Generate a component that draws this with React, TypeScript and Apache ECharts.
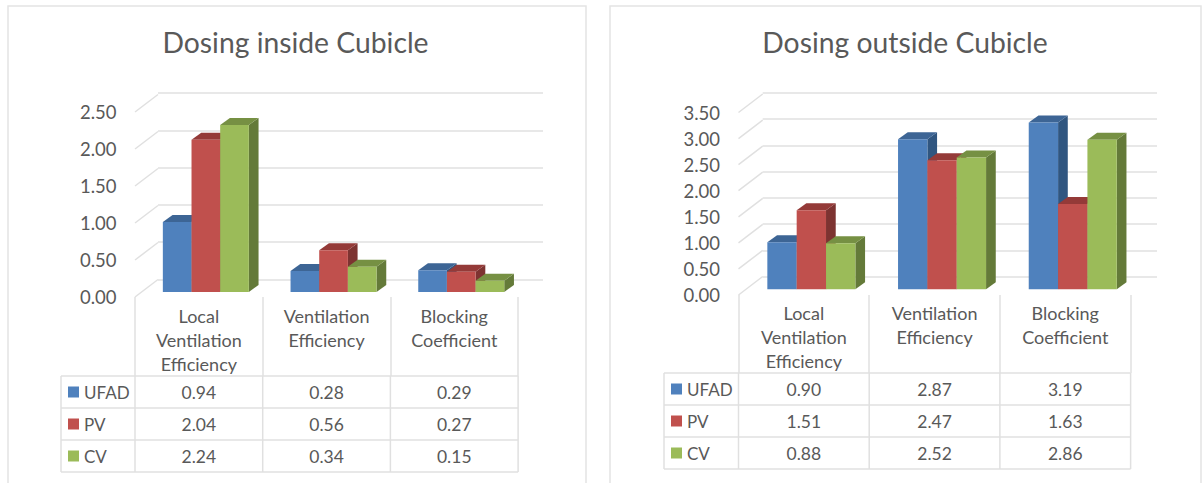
import React, { useEffect, useRef } from "react";
import * as echarts from "echarts";

const categories = ["Local\nVentilation\nEfficiency", "Ventilation\nEfficiency", "Blocking\nCoefficient"];
const seriesNames = ["UFAD", "PV", "CV"];
const insideTitle = "Dosing inside Cubicle";
const outsideTitle = "Dosing outside Cubicle";
const insideUfad = [0.94, 0.28, 0.29];
const insidePv = [2.04, 0.56, 0.27];
const insideCv = [2.24, 0.34, 0.15];
const outsideUfad = [0.9, 2.87, 3.19];
const outsidePv = [1.51, 2.47, 1.63];
const outsideCv = [0.88, 2.52, 2.86];
const insideTicks = [0, 0.5, 1, 1.5, 2, 2.5];
const outsideTicks = [0, 0.5, 1, 1.5, 2, 2.5, 3, 3.5];

const FONT = "Lato";
const TEXT = "#595959";
const LINE = "#e0e0e0";
const FACE = ["#4f81bd", "#c0504d", "#9bbb59"];
const TOP = ["#3d6595", "#943a38", "#769043"];
const SIDE = ["#305680", "#7d3331", "#647a39"];

type Layout = {
  title: string; titleX: number;
  panel: [number, number];
  values: number[][]; ticks: number[];
  front: { x: number; y0: number; yMax: number };
  back: { x: number; right: number; y0: number; yMax: number };
  bar: { x: number; y0: number; yMax: number };
  band: number; tableLeft: number; rows: number[]; labelMargin: number;
};

const layouts: Layout[] = [
  {
    title: insideTitle, titleX: 290.5, panel: [8, 586],
    values: [insideUfad, insidePv, insideCv], ticks: insideTicks,
    front: { x: 135, y0: 297, yMax: 112 },
    back: { x: 158, right: 543, y0: 279.5, yMax: 93 },
    bar: { x: 142, y0: 292, yMax: 105.5 },
    band: 127.7, tableLeft: 61, rows: [376, 408, 440, 472], labelMargin: 6.5,
  },
  {
    title: outsideTitle, titleX: 900, panel: [610, 1201],
    values: [outsideUfad, outsidePv, outsideCv], ticks: outsideTicks,
    front: { x: 738.5, y0: 295, yMax: 112.5 },
    back: { x: 762.7, right: 1157, y0: 276.5, yMax: 93 },
    bar: { x: 746, y0: 289.3, yMax: 106.3 },
    band: 130.7, tableLeft: 664, rows: [373, 405, 437, 469], labelMargin: 5.5,
  },
];

const H = 483;

function buildOption() {
  const grid: any[] = [], xAxis: any[] = [], yAxis: any[] = [], series: any[] = [], graphic: any[] = [], title: any[] = [];

  layouts.forEach((L, li) => {
    const max = L.ticks[L.ticks.length - 1];
    const base = li * 3;
    const w = L.band * categories.length;
    const hiddenX = { type: "category", data: categories, show: false };
    const valueY = { type: "value", min: 0, max, interval: 0.5 };

    // back wall
    grid.push({ left: L.back.x, width: L.back.right - L.back.x, top: L.back.yMax, height: L.back.y0 - L.back.yMax });
    xAxis.push({ ...hiddenX, gridIndex: base });
    yAxis.push({
      ...valueY, gridIndex: base, axisLine: { show: false }, axisTick: { show: false }, axisLabel: { show: false },
      splitLine: { show: true, lineStyle: { color: LINE, width: 1.5 } },
    });

    // bar plane
    grid.push({ left: L.bar.x, width: w, top: L.bar.yMax, height: L.bar.y0 - L.bar.yMax });
    xAxis.push({ ...hiddenX, gridIndex: base + 1 });
    yAxis.push({ ...valueY, gridIndex: base + 1, show: false, splitLine: { show: false } });

    // front plane: axis labels, category labels and table column rules
    grid.push({ left: L.front.x, width: w, top: L.front.yMax, height: L.front.y0 - L.front.yMax });
    xAxis.push({
      type: "category", data: categories, gridIndex: base + 2,
      axisLine: { show: false },
      axisTick: { show: true, length: L.rows[0] - L.front.y0, lineStyle: { color: LINE, width: 1.5 } },
      axisLabel: { color: TEXT, fontFamily: FONT, fontSize: 18, lineHeight: 24.2, margin: L.labelMargin, verticalAlign: "top", interval: 0 },
    });
    yAxis.push({
      ...valueY, gridIndex: base + 2, axisLine: { show: false }, axisTick: { show: false }, splitLine: { show: false },
      axisLabel: { color: TEXT, fontFamily: FONT, fontSize: 18.5, margin: 18.5, formatter: (v: number) => v.toFixed(2) },
    });

    // diagonal wall rules
    const dx = L.back.x - L.front.x;
    const dy = L.back.y0 - L.front.y0;
    series.push({
      type: "custom", xAxisIndex: base + 2, yAxisIndex: base + 2, silent: true, z: 1,
      data: L.ticks.map((t) => [0, t]), encode: { x: 0, y: 1 },
      renderItem: (_: any, api: any) => {
        const p = api.coord([0, api.value(1)]);
        return {
          type: "line",
          shape: { x1: L.front.x, y1: p[1], x2: L.front.x + dx, y2: p[1] + dy },
          style: { stroke: LINE, lineWidth: 1.5 },
        };
      },
    });

    // 3-D bars
    L.values.forEach((vals, si) => {
      series.push({
        type: "custom", name: seriesNames[si], xAxisIndex: base + 1, yAxisIndex: base + 1, z: 3 + si, silent: true,
        data: vals.map((v, i) => [i, v]), encode: { x: 0, y: 1 },
        renderItem: (_: any, api: any) => {
          const top = api.coord([api.value(0), api.value(1)]);
          const bot = api.coord([api.value(0), 0]);
          const band = api.size([1, 0])[0];
          const bw = band * 0.2245;
          const x0 = top[0] + (si - 1.5) * bw;
          const x1 = x0 + bw;
          const ox = 9.7, oy = -7;
          return {
            type: "group",
            children: [
              { type: "polygon", shape: { points: [[x1, top[1]], [x1 + ox, top[1] + oy], [x1 + ox, bot[1] + oy], [x1, bot[1]]] }, style: { fill: SIDE[si] } },
              { type: "polygon", shape: { points: [[x0, top[1]], [x0 + ox, top[1] + oy], [x1 + ox, top[1] + oy], [x1, top[1]]] }, style: { fill: TOP[si] } },
              { type: "rect", shape: { x: x0, y: top[1], width: bw, height: bot[1] - top[1] }, style: { fill: FACE[si] } },
            ],
          };
        },
      });
    });

    title.push({
      text: L.title, left: L.titleX, top: 36.5, textAlign: "center", textVerticalAlign: "middle",
      textStyle: { color: TEXT, fontFamily: FONT, fontSize: 28.3, fontWeight: "normal" },
    });

    // panel frame
    graphic.push({
      type: "rect", silent: true, z: 0,
      shape: { x: L.panel[0], y: 6, width: L.panel[1] - L.panel[0], height: H },
      style: { fill: "none", stroke: "#e4e4e4", lineWidth: 1.5 },
    });

    // data table
    const right = L.front.x + w;
    const hline = (y: number, x1: number) => ({
      type: "line", silent: true, shape: { x1, y1: y, x2: right, y2: y }, style: { stroke: LINE, lineWidth: 1.5 },
    });
    const vline = (x: number) => ({
      type: "line", silent: true, shape: { x1: x, y1: L.rows[0], x2: x, y2: L.rows[3] }, style: { stroke: LINE, lineWidth: 1.5 },
    });
    L.rows.forEach((y) => graphic.push(hline(y, L.tableLeft)));
    graphic.push(vline(L.tableLeft));
    for (let c = 0; c <= categories.length; c++) graphic.push(vline(L.front.x + c * L.band));

    seriesNames.forEach((name, si) => {
      const cy = (L.rows[si] + L.rows[si + 1]) / 2;
      graphic.push({
        type: "rect", silent: true,
        shape: { x: L.tableLeft + 7, y: cy - 5.5, width: 11, height: 11 },
        style: { fill: FACE[si] },
      });
      graphic.push({
        type: "text", silent: true, x: L.tableLeft + 23, y: cy,
        style: { text: name, fill: TEXT, font: `17px ${FONT}`, textVerticalAlign: "middle", textAlign: "left" },
      });
      L.values[si].forEach((v, c) => {
        graphic.push({
          type: "text", silent: true, x: L.front.x + (c + 0.5) * L.band, y: cy,
          style: { text: v.toFixed(2), fill: TEXT, font: `17.5px ${FONT}`, textVerticalAlign: "middle", textAlign: "center" },
        });
      });
    });
  });

  return { animation: false, backgroundColor: "#ffffff", title, grid, xAxis, yAxis, series, graphic };
}

export default function App() {
  const ref = useRef<HTMLDivElement>(null);
  useEffect(() => {
    document.body.style.margin = "0";
    const chart = echarts.init(ref.current!, undefined, { renderer: "svg" });
    chart.setOption(buildOption() as any);
    return () => chart.dispose();
  }, []);
  return <div ref={ref} style={{ width: 1203, height: 483 }} />;
}
